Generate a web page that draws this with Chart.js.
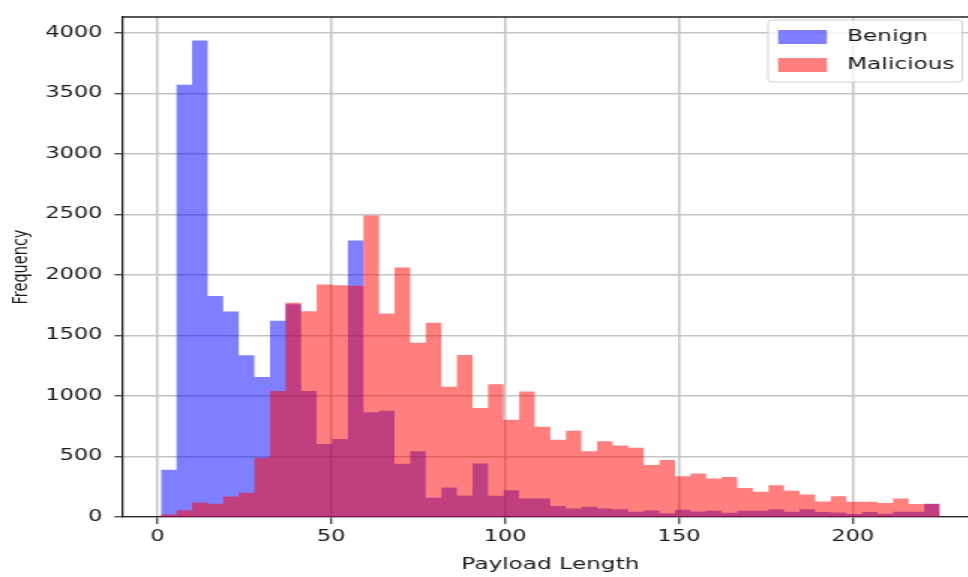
<!DOCTYPE html>
<html>
<head>
<meta charset="utf-8">
<script src="https://cdn.jsdelivr.net/npm/chart.js@4.4.1/dist/chart.umd.min.js"></script>
<style>
  html, body { margin: 0; padding: 0; background: #fff; width: 968px; height: 577px; overflow: hidden; }
  /* the source picture is stretched sideways, so the chart is drawn narrow and widened */
  #wrap { width: 660px; height: 577px; transform: scaleX(1.5); transform-origin: 0 0; }
</style>
</head>
<body>
<div id="wrap"><canvas id="chart" width="660" height="577"></canvas></div>
<script>
// histogram bins: 50 equal bins from 1 to 225
const binStart = 1;
const binEnd = 225;
const binCount = 50;

const benign = [390, 3570, 3935, 1825, 1697, 1336, 1156, 1620, 1757, 1040,
  604, 645, 2284, 865, 878, 440, 544, 158, 243, 178,
  442, 175, 221, 153, 153, 90, 71, 85, 71, 63,
  44, 54, 30, 60, 45, 52, 36, 52, 52, 63,
  44, 63, 41, 38, 25, 41, 27, 44, 44, 110];

const malicious = [20, 55, 120, 110, 170, 200, 490, 1040, 1770, 1700,
  1920, 1915, 1910, 2490, 1680, 2060, 1440, 1605, 1075, 1338,
  900, 1096, 803, 1036, 746, 639, 713, 544, 626, 590,
  571, 430, 470, 336, 360, 317, 331, 240, 208, 262,
  216, 186, 128, 172, 125, 125, 115, 153, 107, 108];

const xTicks = [0, 50, 100, 150, 200];
const yTicks = [0, 500, 1000, 1500, 2000, 2500, 3000, 3500, 4000];

// step outline of a histogram: one point per bin's left edge, closed at the last edge
const binWidth = (binEnd - binStart) / binCount;
function histPoints(vals) {
  const pts = vals.map((v, i) => ({ x: binStart + binWidth * i, y: v }));
  pts.push({ x: binEnd, y: vals[vals.length - 1] });
  return pts;
}

const FONT = "DejaVu Sans";
const TEXT = "#1a1a1a";

const frameAndLegend = {
  id: "frameAndLegend",
  afterDraw(chart) {
    const { ctx, chartArea: a } = chart;
    ctx.save();
    // top / right spines
    ctx.strokeStyle = "#222";
    ctx.lineWidth = 1.3;
    ctx.beginPath();
    ctx.moveTo(a.left, a.top);
    ctx.lineTo(a.right, a.top);
    ctx.lineTo(a.right, a.bottom);
    ctx.stroke();

    // legend box, upper right
    const bx = a.right - 140.5, by = 20, bw = 129.5, bh = 62;
    ctx.beginPath();
    ctx.roundRect(bx, by, bw, bh, 3);
    ctx.fillStyle = "rgba(255,255,255,0.8)";
    ctx.fill();
    ctx.strokeStyle = "#d0d0d0";
    ctx.lineWidth = 1;
    ctx.stroke();

    ctx.font = `15.5px "${FONT}"`;
    ctx.textBaseline = "middle";
    ctx.textAlign = "left";
    chart.data.datasets.forEach((ds, i) => {
      const rowY = by + 17 + i * 28;
      ctx.fillStyle = ds.backgroundColor;
      ctx.fillRect(bx + 6.7, rowY - 7, 32.6, 14);
      ctx.fillStyle = TEXT;
      ctx.fillText(ds.label, bx + 52.7, rowY);
    });
    ctx.restore();
  }
};

const histStyle = {
  stepped: true,
  fill: "origin",
  borderWidth: 0,
  borderColor: "transparent",
  pointRadius: 0,
  tension: 0
};

new Chart(document.getElementById("chart"), {
  type: "line",
  data: {
    datasets: [
      { label: "Benign", data: histPoints(benign), backgroundColor: "rgba(0,0,255,0.5)", order: 1, ...histStyle },
      { label: "Malicious", data: histPoints(malicious), backgroundColor: "rgba(255,0,0,0.5)", order: 0, ...histStyle }
    ]
  },
  options: {
    responsive: false,
    animation: false,
    events: [],
    layout: { padding: { top: 12, right: 7.5, left: 0, bottom: 0 } },
    plugins: {
      legend: { display: false },
      tooltip: { enabled: false }
    },
    scales: {
      x: {
        type: "linear",
        min: -10.2,
        max: 236.2,
        afterBuildTicks: (s) => { s.ticks = xTicks.map((v) => ({ value: v })); },
        grid: { color: "#c4c4c4", lineWidth: 1.5, tickLength: 7, tickColor: "#333", tickWidth: 1.2 },
        border: { display: true, color: "#222", width: 1.3 },
        ticks: {
          maxRotation: 0,
          padding: 4,
          color: TEXT,
          font: { family: FONT, size: 15 },
          callback: (v) => String(v)
        },
        title: {
          display: true,
          text: "Payload Length",
          color: TEXT,
          font: { family: FONT, size: 15.5 },
          padding: { top: 0, bottom: 3 }
        },
        afterFit: (s) => { s.height = 60; }
      },
      y: {
        type: "linear",
        min: 0,
        max: 4130,
        afterBuildTicks: (s) => { s.ticks = yTicks.map((v) => ({ value: v })); },
        grid: { color: "#c4c4c4", lineWidth: 1.5, tickLength: 5, tickColor: "#333", tickWidth: 1.2 },
        border: { display: true, color: "#222", width: 1.3 },
        ticks: {
          padding: 8,
          color: TEXT,
          font: { family: FONT, size: 15 },
          callback: (v) => String(v)
        },
        title: {
          display: true,
          text: "Frequency",
          color: TEXT,
          font: { family: FONT, size: 14.5 },
          padding: { top: 6, bottom: 0 }
        },
        afterFit: (s) => { s.width = 81.3; }
      }
    }
  },
  plugins: [frameAndLegend]
});
</script>
</body>
</html>
